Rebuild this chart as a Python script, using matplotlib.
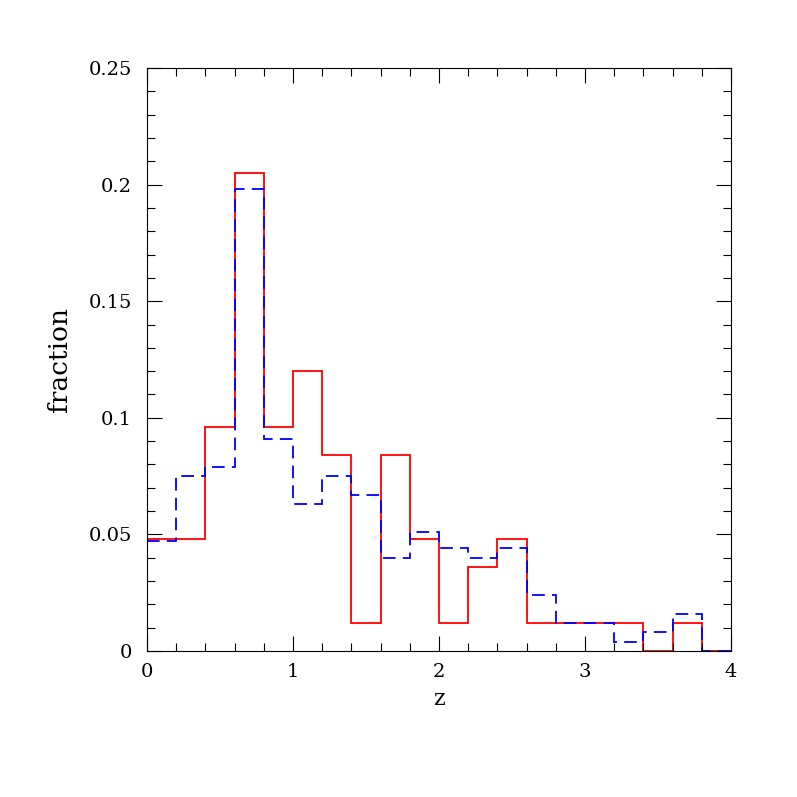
import matplotlib
matplotlib.use("Agg")
import matplotlib.pyplot as plt
from matplotlib.ticker import MultipleLocator
import numpy as np

# bin edges in z, width 0.2
z_edges = np.arange(0, 4.0001, 0.2)

# fraction per bin
frac_red = [0.048, 0.048, 0.096, 0.205, 0.096, 0.120, 0.084, 0.012, 0.084, 0.048,
            0.012, 0.036, 0.048, 0.012, 0.012, 0.012, 0.012, 0.0, 0.012, 0.0]
frac_blue = [0.047, 0.075, 0.079, 0.198, 0.091, 0.063, 0.075, 0.067, 0.040, 0.051,
             0.044, 0.040, 0.044, 0.024, 0.012, 0.012, 0.004, 0.008, 0.016, 0.0]

plt.rcParams['font.family'] = ['DejaVu Serif']

fig = plt.figure(figsize=(7.97, 7.97), dpi=100)
ax = fig.add_axes([0.1844, 0.1832, 0.7328, 0.7315])

ax.stairs(frac_red, z_edges, baseline=None, color='red', lw=1.3)
ax.stairs(frac_blue, z_edges, baseline=None, color='blue', lw=1.3,
          linestyle=(0, (7, 4)))

ax.set_xlim(0, 4)
ax.set_ylim(0, 0.25)
ax.xaxis.set_major_locator(MultipleLocator(1))
ax.xaxis.set_minor_locator(MultipleLocator(0.2))
ax.yaxis.set_minor_locator(MultipleLocator(0.01))
ax.set_yticks([0, 0.05, 0.1, 0.15, 0.2, 0.25])
ax.set_yticklabels(['0', '0.05', '0.1', '0.15', '0.2', '0.25'])

ax.tick_params(which='both', direction='in', top=True, right=True,
               labelsize=14, width=0.8)
ax.tick_params(which='major', length=11)
ax.tick_params(axis='y', which='major', pad=11)
ax.tick_params(axis='x', which='major', pad=9)
ax.tick_params(which='minor', length=6)
for s in ax.spines.values():
    s.set_linewidth(0.8)

ax.set_xlabel('z', fontsize=16, labelpad=5)
ax.set_ylabel('fraction', fontsize=19, labelpad=12)

fig.savefig('out.png', dpi=100)
